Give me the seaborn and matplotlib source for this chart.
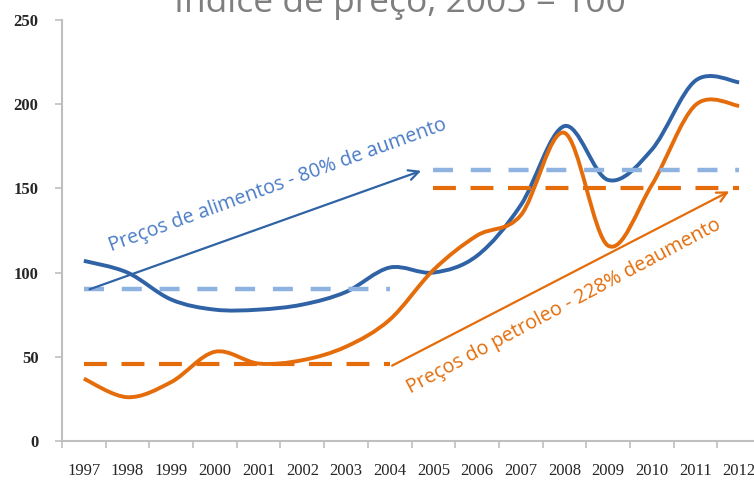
import matplotlib
matplotlib.use('Agg')
import matplotlib.pyplot as plt
import numpy as np
import pandas as pd
import seaborn as sns
from matplotlib.path import Path
from matplotlib.patches import PathPatch

# Data (price index, 2005 = 100)
years = [1997, 1998, 1999, 2000, 2001, 2002, 2003, 2004,
         2005, 2006, 2007, 2008, 2009, 2010, 2011, 2012]
food = [107, 100, 84, 78, 78, 81, 88.5, 103, 100, 110, 140, 187, 155, 173, 214, 213]
oil = [37, 26, 35, 53, 46, 48, 56, 72, 101.5, 122, 134, 183, 116, 152, 199.5, 199]

food_avg = [90, 161]   # 1997-2004, 2005-2012
oil_avg = [46, 150]
periods = [(1997, 2004), (2005, 2012)]

title = 'Índice de preço, 2005 = 100'
food_label = 'Preços de alimentos - 80% de aumento'
oil_label = 'Preços do petroleo - 228% deaumento'

blue = '#2f63a6'
blue_light = '#8fb3e0'
orange = '#e46c0a'


def smooth_path(xs, ys):
    # Excel-like smooth line: Catmull-Rom segments drawn as cubic Bezier curves
    pts = np.column_stack([xs, ys]).astype(float)
    ext = np.vstack([pts[0], pts, pts[-1]])
    verts = [pts[0]]
    codes = [Path.MOVETO]
    for i in range(1, len(ext) - 2):
        p0, p1, p2, p3 = ext[i - 1], ext[i], ext[i + 1], ext[i + 2]
        verts += [p1 + (p2 - p0) / 6, p2 - (p3 - p1) / 6, p2]
        codes += [Path.CURVE4] * 3
    return Path(verts, codes)


sns.set_theme(style='white')
fig = plt.figure(figsize=(7.54, 4.80), dpi=100)
ax = fig.add_axes([62 / 754, 39 / 480, 699 / 754, 421 / 480])

# Period averages (dashed)
avg_rows = []
for name, vals in [('food', food_avg), ('oil', oil_avg)]:
    for k, (a, b) in enumerate(periods):
        avg_rows.append({'serie': name, 'seg': k, 'year': a, 'value': vals[k]})
        avg_rows.append({'serie': name, 'seg': k, 'year': b, 'value': vals[k]})
df_avg = pd.DataFrame(avg_rows)
for (name, seg), d in df_avg.groupby(['serie', 'seg']):
    if name == 'food':
        sns.lineplot(data=d, x='year', y='value', ax=ax, color=blue_light, lw=3.2,
                     linestyle=(0, (4.5, 4)))
    else:
        sns.lineplot(data=d, x='year', y='value', ax=ax, color=orange, lw=3,
                     linestyle=(0, (5.5, 3.5)))

# Smooth series curves
ax.add_patch(PathPatch(smooth_path(years, food), fill=False, edgecolor=blue, lw=2.8))
ax.add_patch(PathPatch(smooth_path(years, oil), fill=False, edgecolor=orange, lw=2.8))

# Arrows and labels
ax.annotate('', xy=(2004.78, 161), xytext=(1997.07, 89.5),
            arrowprops=dict(arrowstyle='->', color=blue, lw=1.6, mutation_scale=18))
ax.annotate('', xy=(2011.83, 149), xytext=(2004.0, 44),
            arrowprops=dict(arrowstyle='->', color=orange, lw=1.6, mutation_scale=18))
ax.text(2001.45, 152, food_label, rotation=20, rotation_mode='anchor',
        ha='center', va='center', color='#4a7cc6', fontsize=14.2, family='Open Sans')
ax.text(2008.0, 80, oil_label, rotation=28, rotation_mode='anchor',
        ha='center', va='center', color=orange, fontsize=14.2, family='Open Sans')

# Axes styling
ax.set_xlim(1996.5, 2012.5)
ax.set_ylim(0, 250)
ax.set_xticks(years)
ax.set_xticks(np.arange(1996.5, 2013, 1), minor=True)
ax.set_yticks(range(0, 251, 50))
ax.set_xlabel('')
ax.set_ylabel('')
for s in ['top', 'right']:
    ax.spines[s].set_visible(False)
for s in ['left', 'bottom']:
    ax.spines[s].set_color('#bfbfbf')
    ax.spines[s].set_linewidth(1.5)
ax.tick_params(axis='x', which='major', length=0, pad=16, labelsize=12,
               labelcolor='#262626')
ax.tick_params(axis='x', which='minor', bottom=True, length=5, width=1.2, color='#bfbfbf')
ax.tick_params(axis='y', left=True, length=5, width=1.2, color='#bfbfbf', pad=12,
               labelsize=12, labelcolor='#262626')
for lab in ax.get_xticklabels() + ax.get_yticklabels():
    lab.set_family('Liberation Serif')
for lab in ax.get_yticklabels():
    lab.set_fontweight('bold')

fig.text(0.531, 1 - 12 / 480, title, ha='center', va='baseline', fontsize=25.5,
         color='#7f7f7f', family='Open Sans')

fig.savefig('out.png', dpi=100)
